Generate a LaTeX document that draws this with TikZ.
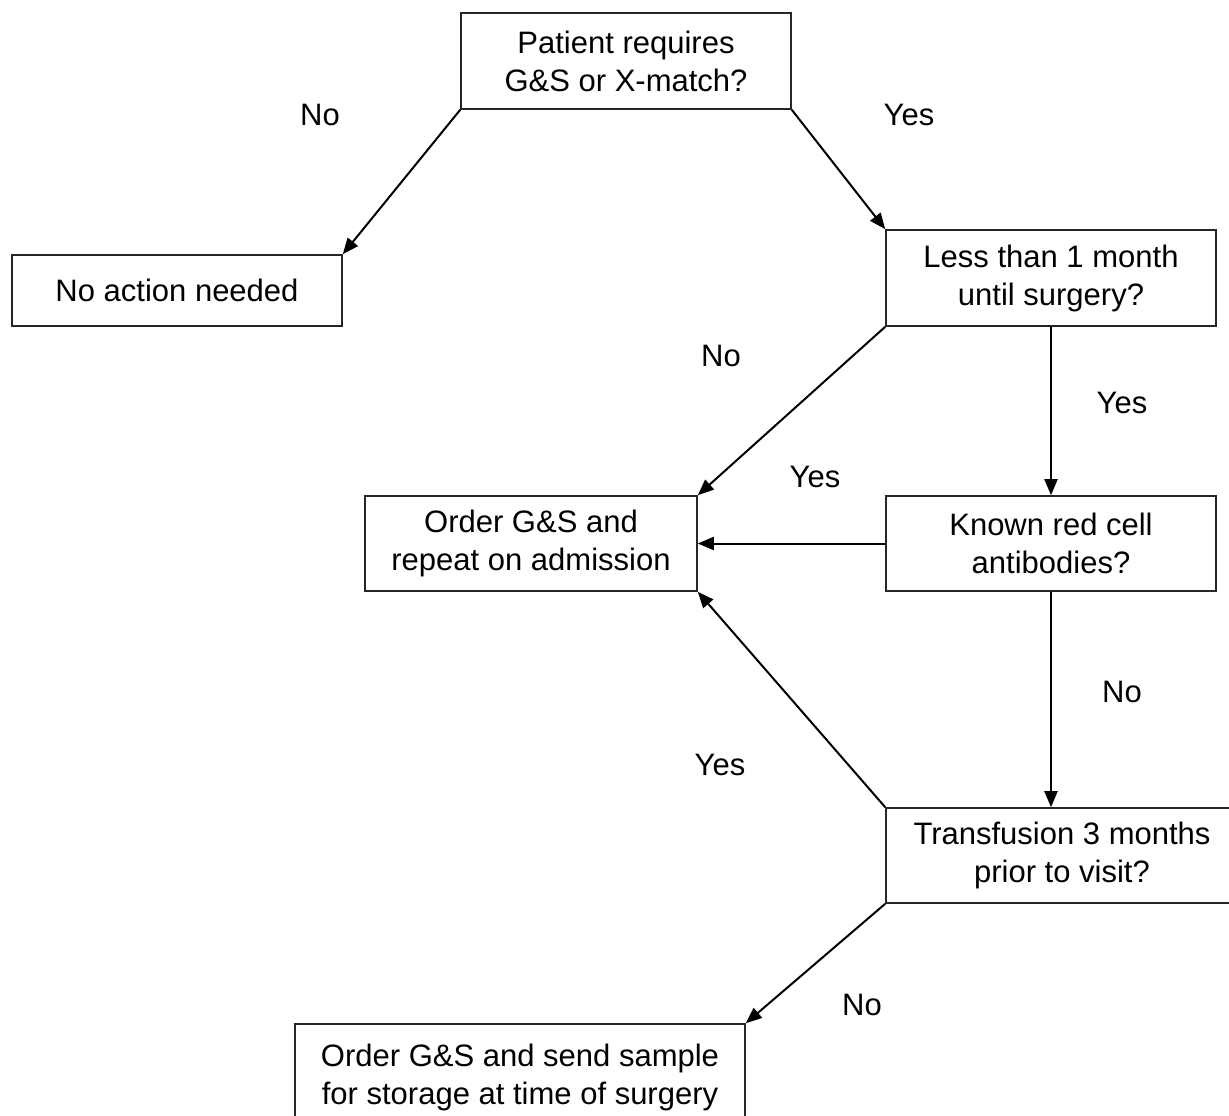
\documentclass[tikz,border=0pt]{standalone}
\usepackage{fontspec}
\setmainfont{Liberation Sans}
\usetikzlibrary{arrows.meta}
\begin{document}
\begin{tikzpicture}[x=1pt,y=-1pt,
  box/.style={draw=black!85,line width=1.6pt,align=center,inner sep=0pt,
    font=\fontsize{31}{38}\selectfont},
  lbl/.style={font=\fontsize{31}{34}\selectfont,inner sep=0pt},
  arr/.style={line width=2pt,-{Triangle[length=16pt,width=13pt]}}]
\useasboundingbox (0,0) rectangle (1229,1116);
\clip (0,0) rectangle (1229,1116);
\node[box,minimum width=330pt,minimum height=96pt] (top) at (626,61) {Patient requires\\G\&S or X-match?};
\node[box,minimum width=330pt,minimum height=71pt] (noact) at (177,290.5) {No action needed};
\node[box,minimum width=330pt,minimum height=96pt] (less) at (1051,278) {Less than 1 month\\until surgery?};
\node[box,minimum width=332pt,minimum height=95pt] (order) at (531,543.5) {Order G\&S and\\repeat on admission};
\node[box,minimum width=330pt,minimum height=95pt] (known) at (1051,543.5) {Known red cell\\antibodies?};
\node[box,minimum width=352pt,minimum height=95pt] (trans) at (1062,855.5) {Transfusion 3 months\\prior to visit?};
\node[box,minimum width=450pt,minimum height=106pt] (store) at (520,1077) {Order G\&S and send sample\\for storage at time of surgery};
\draw[arr] (top.south west) -- (noact.north east);
\draw[arr] (top.south east) -- (less.north west);
\draw[arr] (less.south west) -- (order.north east);
\draw[arr] (less.south) -- (known.north);
\draw[arr] (known.west) -- (order.east);
\draw[arr] (known.south) -- (known.south |- trans.north);
\draw[arr] (trans.north west) -- (order.south east);
\draw[arr] (trans.south west) -- (store.north east);
\node[lbl] (l1) at (320,115) {No};
\node[lbl] (l2) at (909,115) {Yes};
\node[lbl] (l3) at (721,356) {No};
\node[lbl] (l4) at (1122,403) {Yes};
\node[lbl] (l5) at (815,477) {Yes};
\node[lbl] (l6) at (1122,692) {No};
\node[lbl] (l7) at (720,765) {Yes};
\node[lbl] (l8) at (862,1005) {No};
\end{tikzpicture}
\end{document}
